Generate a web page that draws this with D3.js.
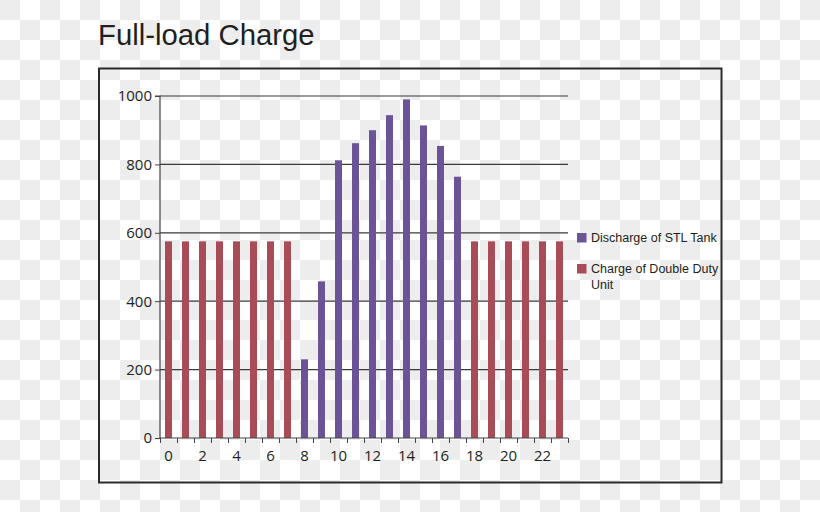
<!DOCTYPE html>
<html><head><meta charset="utf-8">
<script src="https://cdn.jsdelivr.net/npm/d3@7"></script>
<style>html,body{margin:0;padding:0;background:#fff;}svg{display:block;}</style>
</head><body>
<svg id="chart" width="820" height="512"></svg>
<script>
const hours = d3.range(0, 24);
const seriesNames = ["Discharge of STL Tank", "Charge of Double Duty Unit"];
const discharge = [0,0,0,0,0,0,0,0,230,458,812,862,900,944,990,914,854,764,0,0,0,0,0,0];
const charge = [575,575,575,575,575,575,575,575,0,0,0,0,0,0,0,0,0,0,575,575,575,575,575,575];
const yTicks = [0, 200, 400, 600, 800, 1000];
const xTickLabels = [0,2,4,6,8,10,12,14,16,18,20,22];
const colors = ["#6a5495", "#a84d57"];

(function(){
const svg = d3.select("#chart");
const defs = svg.append("defs");
const pat = defs.append("pattern").attr("id","checker").attr("width",40).attr("height",40).attr("patternUnits","userSpaceOnUse");
pat.append("rect").attr("width",40).attr("height",40).attr("fill","#ffffff");
pat.append("rect").attr("x",0).attr("y",0).attr("width",20).attr("height",20).attr("fill","#ededed");
pat.append("rect").attr("x",20).attr("y",20).attr("width",20).attr("height",20).attr("fill","#ededed");
svg.append("rect").attr("width",820).attr("height",512).attr("fill","url(#checker)");

svg.append("text").attr("x",98).attr("y",45).attr("font-family","Liberation Sans, Arial, sans-serif")
  .attr("font-size",29.3).attr("fill","#231f20").text("Full-load Charge");

svg.append("rect").attr("x",99).attr("y",68.5).attr("width",622.5).attr("height",414)
  .attr("fill","none").attr("stroke","#2a2a2a").attr("stroke-width",2);

const pl = 160, pr = 568, pt = 96, pb = 438;
const xb = d3.scaleLinear().domain([0, 24]).range([pl, pr]);
const y = d3.scaleLinear().domain([0, 1000]).range([pb, pt]);

svg.append("g").selectAll("line").data(yTicks.filter(d => d > 0)).join("line")
  .attr("x1", pl).attr("x2", pr).attr("y1", d => y(d)).attr("y2", d => y(d))
  .attr("stroke", "#3a3a3a").attr("stroke-width", 1.2);

const bw = 7;
const data = hours.map(h => ({h, v: discharge[h] || charge[h], s: discharge[h] ? 0 : 1}));
svg.append("g").selectAll("rect").data(data).join("rect")
  .attr("x", d => xb(d.h + 0.5) - bw/2).attr("width", bw)
  .attr("y", d => y(d.v)).attr("height", d => y(0) - y(d.v))
  .attr("fill", d => colors[d.s]);

const yAxis = d3.axisLeft(y).tickValues(yTicks).tickSize(5).tickPadding(3).tickFormat(d3.format("d"));
const gy = svg.append("g").attr("transform", `translate(${pl},0)`).call(yAxis);
gy.select(".domain").attr("stroke","#444").attr("stroke-width",1.2).attr("d", `M-5,${pt}H0V${pb}`);
gy.selectAll(".tick line").attr("stroke","#444");
gy.selectAll("text").attr("font-family","Open Sans, sans-serif").attr("font-size",15).attr("fill","#231f20");

const xAxis = d3.axisBottom(xb).tickValues(d3.range(0, 25)).tickSize(5).tickFormat("");
const gx = svg.append("g").attr("transform", `translate(0,${pb})`).call(xAxis);
gx.select(".domain").attr("stroke","#444").attr("stroke-width",1.2).attr("d", `M${pl},0H${pr}`);
gx.selectAll(".tick line").attr("stroke","#444");
svg.append("g").selectAll("text").data(xTickLabels).join("text")
  .attr("x", d => xb(d + 0.5)).attr("y", 460.5).attr("text-anchor","middle")
  .attr("font-family","Open Sans, sans-serif").attr("font-size",15).attr("fill","#231f20")
  .text(d => d);

const lg = svg.append("g").attr("font-family","Liberation Sans, Arial, sans-serif").attr("font-size",12.5).attr("fill","#231f20");
lg.append("rect").attr("x",577).attr("y",233).attr("width",9.5).attr("height",9.5).attr("fill",colors[0]);
lg.append("text").attr("x",591).attr("y",241.5).text(seriesNames[0]);
lg.append("rect").attr("x",577).attr("y",264).attr("width",9.5).attr("height",9.5).attr("fill",colors[1]);
const t2 = lg.append("text").attr("x",591).attr("y",273.3);
t2.append("tspan").attr("x",591).text("Charge of Double Duty");
t2.append("tspan").attr("x",591).attr("dy",15.4).text("Unit");
})();
</script>
</body></html>
